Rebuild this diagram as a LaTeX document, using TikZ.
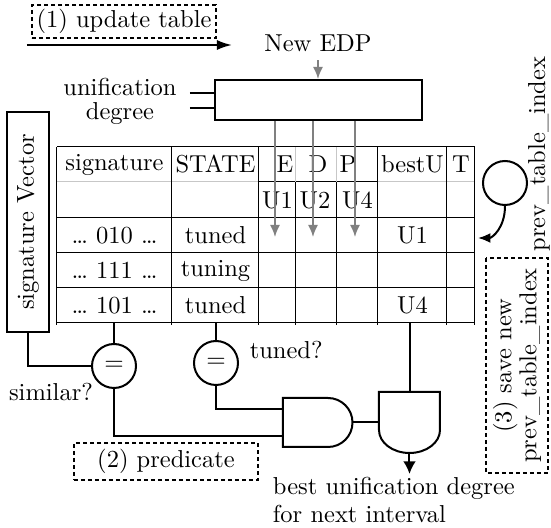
\documentclass[tikz,border=0pt]{standalone}
\usetikzlibrary{arrows.meta}
\begin{document}
\begin{tikzpicture}[x=4pt, y=-4pt, font=\fontsize{9.8}{11.2}\selectfont,
        dbox/.style={draw, line width=0.6pt, dash pattern=on 1.6pt off 1.2pt, inner sep=0pt},
        gate/.style={draw, line width=0.8pt, fill=white},
        wire/.style={line width=0.8pt},
        cell/.style={line width=0.4pt},
        faint/.style={line width=0.4pt, black!22},
        garr/.style={draw=black!50, line width=0.7pt, -{Latex[length=4.8pt, width=4pt]}},
        cmp/.style={circle, draw, line width=0.8pt, minimum size=17.6pt, inner sep=0pt}]
            %\draw[lightgray] (0, 0) grid (55, 53);
            \useasboundingbox (0, 0) rectangle (55.1, 52.8);
            % (1) update
            \node[dbox, minimum width=73.6pt, minimum height=13.2pt] (upd) at (12.4, 2.15) {(1) update table};
            \coordinate (updS) at (2.7, 4.5);
            \coordinate (updE) at (23.2, 4.5);
            \draw[wire, -{Latex[length=6pt, width=4pt]}] (updS) -- (updE);
            \node (edp) at (31.8, 4.3) {New EDP};
            \node[draw, line width=0.8pt, minimum width=82.8pt, minimum height=16pt] (reg) at (31.85, 10) {};
            \draw[garr] (edp.south) -- (edp.south |- reg.north);
            \node[align=center] (udeg) at (12, 10.1) {unification\\[-1.6pt]degree};
            \coordinate (ud1) at (19, 9.3);
            \coordinate (ud2) at (19, 10.8);
            \draw[line width=0.5pt] (ud1) -- (ud1 -| reg.west);
            \draw[line width=0.5pt] (ud2) -- (ud2 -| reg.west);
            % table
            \draw[cell] (5.7, 14.7) -- (47.5, 14.7);
            \draw[faint] (5.7, 18.2) -- (25.9, 18.2) (37.8, 18.2) -- (47.5, 18.2);
            \draw[cell] (25.9, 18.2) -- (37.8, 18.2);
            \foreach \y in {21.8, 25.3, 28.8, 32.3}
                \draw[cell] (5.7, \y) -- (47.5, \y);
            \foreach \x in {5.7, 17.2, 25.9, 37.8, 44.7, 47.5}
                \draw[cell] (\x, 14.7) -- (\x, 32.5);
            \foreach \x in {29.6, 33.7} {
                \draw[faint] (\x, 14.7) -- (\x, 18.2);
                \draw[cell] (\x, 18.2) -- (\x, 32.5);
            }
            \node (hsig) at (11.45, 16.45) {signature};
            \node (hstate) at (21.55, 16.45) {STATE};
            \node (he) at (28.5, 16.45) {E};
            \node (hd) at (31.8, 16.45) {D};
            \node (hp) at (34.8, 16.45) {P};
            \node (hbest) at (41.25, 16.45) {bestU};
            \node (ht) at (46.1, 16.45) {T};
            \node (u1) at (27.75, 20) {U1};
            \node (u2) at (31.5, 20) {U2};
            \node (u4) at (35.75, 20) {U4};
            \foreach \y/\sg/\st [count=\i] in {23.55/010/tuned, 27.05/111/tuning, 30.55/101/tuned} {
                \node (sg\i) at (11.45, \y) {\dots{} \sg{} \dots};
                \node (st\i) at (21.55, \y) {\st};
            }
            \node (bu1) at (41.25, 23.55) {U1};
            \node (bu3) at (41.25, 30.55) {U4};
            \foreach \x/\n in {27.5/e, 31.3/d, 35.5/p} {
                \coordinate (in\n) at (\x, 23.7);
                \draw[garr] (in\n |- reg.south) -- (in\n);
            }
            % prev_table_index
            \node[cmp] (prev) at (50.5, 18.3) {};
            \node[rotate=90] (prevlbl) at (53.9, 15.4) {prev\_table\_index};
            \coordinate (tblR) at (47.8, 23.8);
            \draw[wire, -{Latex[length=5pt, width=4pt]}] (prev.south) .. controls +(0, 2.2) and +(1.4, 0) .. (tblR);
            \node[dbox, rotate=90, align=center, minimum width=86pt, minimum height=24.8pt] (save) at (51.7, 36.55) {(3) save new\\[-1.2pt]prev\_table\_index};
            % signature vector and compare
            \node[draw, line width=0.8pt, rotate=90, minimum width=88pt, minimum height=16.8pt, inner sep=0pt] (sigvec) at (2.8, 22.2) {signature Vector};
            \node[cmp] (sim) at (11.4, 36.6) {$=$};
            \node[cmp] (tun) at (21.6, 36.3) {$=$};
            \node (simlbl) at (5.1, 39.2) {similar?};
            \node[anchor=west] (tunlbl) at (24.1, 35.0) {tuned?};
            \coordinate (sigB) at (11.4, 32.3);
            \coordinate (stB) at (21.6, 32.3);
            \coordinate (buB) at (41.0, 32.3);
            \draw[wire] (sigB) -- (sim.north);
            \draw[wire] (stB) -- (tun.north);
            \draw[wire] (sigvec.west) |- (sim.west);
            % gates
            \draw[gate] (28.3, 39.8) -- (32.8, 39.8) arc[start angle=-90, end angle=90, radius=2.45] -- (28.3, 44.7) -- cycle;
            \draw[gate] (37.9, 39.2) -- (44.0, 39.2) -- (44.0, 43.0) arc[start angle=0, end angle=180, x radius=3.05, y radius=2.3] -- cycle;
            \coordinate (and1a) at (28.3, 40.9);
            \coordinate (and1b) at (28.3, 43.6);
            \coordinate (and1o) at (35.25, 42.25);
            \coordinate (and2l) at (37.9, 42.25);
            \coordinate (and2t) at (41.0, 39.2);
            \coordinate (and2o) at (40.95, 45.3);
            \draw[wire] (tun.south) |- (and1a);
            \draw[wire] (sim.south) |- (and1b);
            \draw[wire] (and1o) -- (and2l);
            \draw[wire] (buB) -- (and2t);
            \node[anchor=north west, align=left, inner sep=1pt] (best) at (27.0, 47.4) {best unification degree\\for next interval};
            \draw[wire, -{Latex[length=5pt, width=5pt]}] (and2o) -- (and2o |- best.north);
            % (2) predicate
            \node[dbox, minimum width=73.6pt, minimum height=14.8pt] (pred) at (16.6, 46.15) {(2) predicate};
        \end{tikzpicture}
\end{document}
